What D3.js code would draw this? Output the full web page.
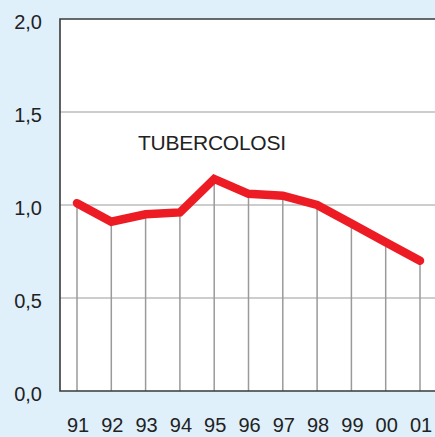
<!DOCTYPE html>
<html>
<head>
<meta charset="utf-8">
<script src="https://cdn.jsdelivr.net/npm/d3@7"></script>
<style>
  body { margin: 0; background: #dff0fb; }
  svg { display: block; font-family: "Liberation Sans", Arial, sans-serif; }
</style>
</head>
<body>
<svg id="chart" width="435" height="437"></svg>
<script>
// data
var years = ["91","92","93","94","95","96","97","98","99","00","01"];
var values = [1.01, 0.91, 0.95, 0.96, 1.14, 1.06, 1.05, 1.00, 0.90, 0.80, 0.70];
var yTicks = [0, 0.5, 1.0, 1.5, 2.0];
var gridTicks = [0.5, 1.0, 1.5];
var seriesLabel = "TUBERCOLOSI";

var plot = { left: 60, top: 19, right: 436, bottom: 391 };

window.onload = function() {
   var svg = d3.select("#chart");

   var x = d3.scalePoint()
      .domain(years)
      .range([77, 420]);
   var y = d3.scaleLinear()
      .domain([0, 2])
      .range([plot.bottom, plot.top]);

   // white plot area
   svg.append("rect")
      .attr("x", plot.left)
      .attr("y", plot.top)
      .attr("width", plot.right - plot.left)
      .attr("height", plot.bottom - plot.top)
      .attr("fill", "#ffffff");

   // horizontal grid
   svg.selectAll(".grid")
      .data(gridTicks)
      .enter().append("line")
      .attr("x1", plot.left)
      .attr("x2", plot.right)
      .attr("y1", function(d) { return y(d); })
      .attr("y2", function(d) { return y(d); })
      .attr("stroke", "#bdbdbd")
      .attr("stroke-width", 1.5);

   // drop lines from each point
   svg.selectAll(".drop")
      .data(values)
      .enter().append("line")
      .attr("x1", function(d, i) { return x(years[i]); })
      .attr("x2", function(d, i) { return x(years[i]); })
      .attr("y1", function(d) { return y(d); })
      .attr("y2", plot.bottom)
      .attr("stroke", "#9a9a9a")
      .attr("stroke-width", 1.5);

   // frame: top, left, bottom
   svg.append("path")
      .attr("d", "M" + plot.right + "," + plot.top + "H" + plot.left + "V" + plot.bottom + "H" + plot.right)
      .attr("fill", "none")
      .attr("stroke", "#3a3a3a")
      .attr("stroke-width", 1.6);

   // y labels
   svg.selectAll(".ylab")
      .data(yTicks)
      .enter().append("text")
      .attr("x", 42)
      .attr("y", function(d) { return y(d) + 10; })
      .attr("text-anchor", "end")
      .attr("font-size", 20)
      .attr("fill", "#222")
      .text(function(d) { return d3.format(".1f")(d).replace(".", ","); });

   // x labels
   svg.selectAll(".xlab")
      .data(years)
      .enter().append("text")
      .attr("x", function(d) { return x(d) + 1; })
      .attr("y", 432)
      .attr("text-anchor", "middle")
      .attr("font-size", 20)
      .attr("fill", "#222")
      .text(function(d) { return d; });

   // the series
   var line = d3.line()
      .x(function(d, i) { return x(years[i]); })
      .y(function(d) { return y(d); });

   svg.append("path")
      .datum(values)
      .attr("d", line)
      .attr("fill", "none")
      .attr("stroke", "#ed1c24")
      .attr("stroke-width", 8.5)
      .attr("stroke-linejoin", "miter")
      .attr("stroke-linecap", "round");

   svg.append("text")
      .attr("x", 138)
      .attr("y", 150)
      .attr("font-size", 21)
      .attr("fill", "#222")
      .attr("textLength", 148)
      .text(seriesLabel);
};
</script>
</body>
</html>
